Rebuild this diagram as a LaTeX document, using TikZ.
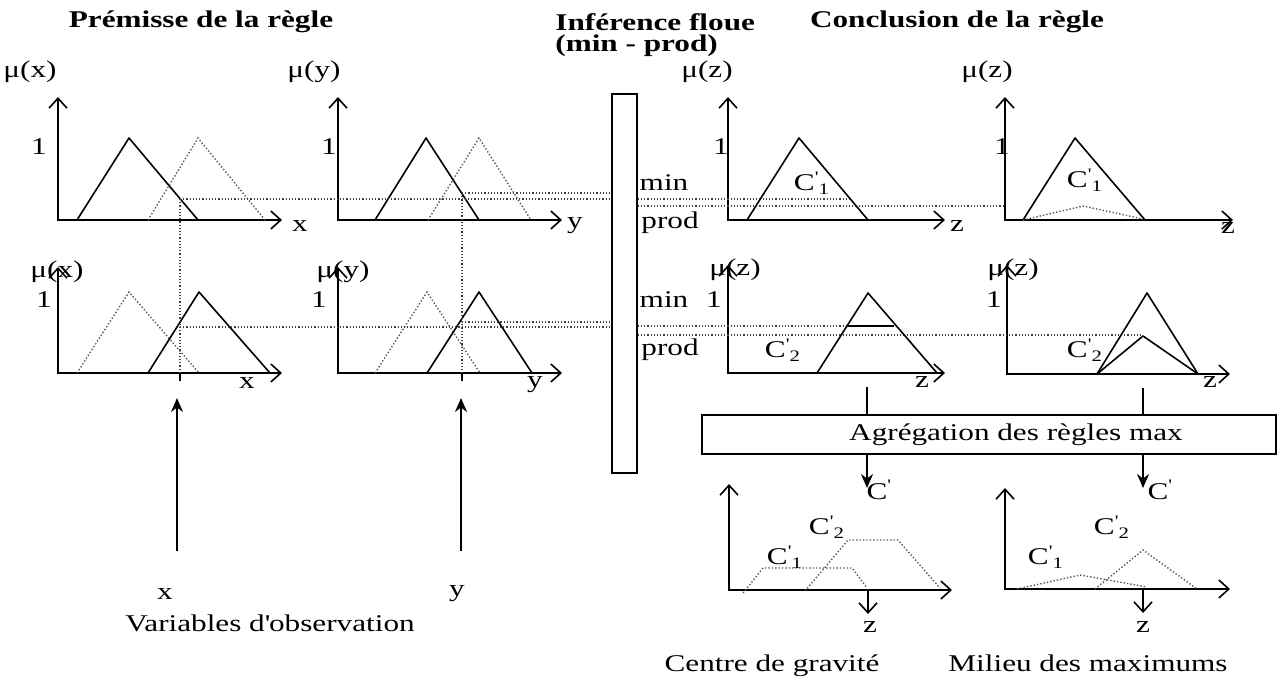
\documentclass[tikz,border=0pt]{standalone}
\usepackage{fontspec}
\setmainfont[FakeStretch=1.3]{Liberation Serif}
\usetikzlibrary{arrows.meta}
\newcommand\clab[1]{C\textsuperscript{\textquotesingle}\textsubscript{#1}}

\begin{document}
\begin{tikzpicture}[x=0.5pt,y=-0.5pt,
  every node/.style={font=\fontsize{12}{14}\selectfont,inner sep=1pt},
  titre/.style={font=\fontsize{12}{14}\selectfont\bfseries},
  axe/.style={line width=0.8pt,{Straight Barb[length=5pt,width=9pt]}-{Straight Barb[length=5pt,width=9pt]}},
  fleche/.style={line width=0.8pt,-{Straight Barb[length=5pt,width=9pt]}},
  obs/.style={line width=0.8pt,-{Stealth[length=7pt,width=6pt]}},
  memb/.style={line width=0.8pt,line join=round},
  fantome/.style={line width=0.7pt,densely dotted,black!65},
  guide/.style={line width=0.6pt,densely dotted,black!75}]
\useasboundingbox (0,0) rectangle (1277,675);

\node[titre] (tprem) at (201,22) {Prémisse de la règle};
\node[titre,anchor=west] (tinf) at (553,22) {Inférence floue};
\node[titre,anchor=west] (tmp) at (553,46) {(min - prod)};
\node[titre] (tconc) at (957,22) {Conclusion de la règle};

\foreach \ox/\oy/\ty/\xe in {58/220/97/282, 338/220/97/562, 728/220/97/945, 1005/220/97/1233,
    58/373/267/282, 338/373/267/562, 728/373/265/945, 1007/374/265/1230,
    729/590/484/952, 1005/589/488/1230}
  \draw[axe] (\ox,\ty) -- (\ox,\oy) -- (\xe,\oy);

\node (mux1) at (30,72) {μ(x)};
\node (muy1) at (314,72) {μ(y)};
\node (muz1) at (707,72) {μ(z)};
\node (muz2) at (987,72) {μ(z)};
\node (mux2) at (57,272) {μ(x)};
\node (muy2) at (343,272) {μ(y)};
\node (muz3) at (735,270) {μ(z)};
\node (muz4) at (1013,270) {μ(z)};
\foreach \lx/\ly in {39/147, 329/147, 721/147, 1002/147, 44/300, 319/300, 714/300, 994/300}
  \node at (\lx,\ly) {1};
\node (ax1) at (300,226) {x};
\node (ay1) at (575,226) {y};
\node (az1) at (957,226) {z};
\node (az2) at (1228,228) {z};
\node (ax2) at (247,383) {x};
\node (ay2) at (535,385) {y};
\node (az3) at (922,382) {z};
\node (az4) at (1210,382) {z};

% premisses
\draw[memb] (77,220) -- (129,138) -- (198,220);
\draw[fantome] (148,220) -- (198,138) -- (265,220);
\draw[memb] (375,220) -- (426,138) -- (479,220);
\draw[fantome] (428,220) -- (479,138) -- (531,220);
\draw[fantome] (77,373) -- (129,292) -- (199,373);
\draw[memb] (148,373) -- (199,292) -- (270,373);
\draw[fantome] (375,373) -- (427,292) -- (480,373);
\draw[memb] (427,373) -- (479,292) -- (532,373);

\node[draw,line width=0.8pt,minimum width=12.5pt,minimum height=189.5pt,inner sep=0] (infer) at (624.5,283.5) {};
\node (min1) at (664,183) {min};
\node (prod1) at (670,223) {prod};
\node (min2) at (664,300) {min};
\node (prod2) at (670,350) {prod};

\coordinate (gx1) at (180,199);
\coordinate (gy1) at (462,193);
\coordinate (gx2) at (180,327);
\coordinate (gy2) at (462,322);
\draw[guide] (gx1) -- (gx1 -| infer.west);
\draw[guide] (gy1) -- (gy1 -| infer.west);
\draw[guide] (gx2) -- (gx2 -| infer.west);
\draw[guide] (gy2) -- (gy2 -| infer.west);
\draw[guide] (gx1) -- (180,373);
\draw[guide] (gy1) -- (462,373);
\draw[memb] (180,373) -- (180,381);
\draw[memb] (462,373) -- (462,381);

% conclusions
\draw[guide] (infer.east |- 0,199) -- (850,199);
\draw[guide] (infer.east |- 0,206) -- (1005,206);
\draw[guide] (infer.east |- 0,326) -- (847,326);
\draw[guide] (infer.east |- 0,335) -- (1143,335);
\draw[memb] (747,220) -- (799,138) -- (868,220);
\draw[memb] (1023,220) -- (1075,138) -- (1145,220);
\draw[fantome] (1023,220) -- (1083,206) -- (1143,219);
\draw[memb] (817,373) -- (868,293) -- (937,373);
\draw[memb] (847,326) -- (894,326);
\draw[memb] (1097,374) -- (1147,293) -- (1198,374);
\draw[memb] (1097,374) -- (1143,336) -- (1198,374);
\node (c1a) at (812,183) {\clab{1}};
\node (c1b) at (1085,180) {\clab{1}};
\node (c2a) at (783,350) {\clab{2}};
\node (c2b) at (1085,350) {\clab{2}};

\node[draw,line width=0.8pt,minimum width=287pt,minimum height=19.5pt,inner sep=0] (agg) at (989,434.5) {};
\node (aggt) at (1016,435) {Agrégation des règles max};
\draw[memb] (867,387) -- (867,387 |- agg.north);
\draw[memb] (1143,388) -- (1143,388 |- agg.north);
\draw[obs] (agg.south -| 867,0) -- (867,488);
\draw[obs] (agg.south -| 1143,0) -- (1143,488);
\node (ca) at (879,490) {C\textsuperscript{\textquotesingle}};
\node (cb) at (1160,490) {C\textsuperscript{\textquotesingle}};

% defuzzification
\draw[fantome] (743,593) -- (763,568) -- (852,568) -- (867,588);
\draw[fantome] (805,591) -- (848,540) -- (898,540) -- (940,588);
\draw[fantome] (1017,589) -- (1080,575) -- (1147,587);
\draw[fantome] (1095,589) -- (1143,550) -- (1197,589);
\node (c2c) at (827,527) {\clab{2}};
\node (c1c) at (785,557) {\clab{1}};
\node (c2d) at (1112,527) {\clab{2}};
\node (c1d) at (1046,557) {\clab{1}};
\draw[fleche] (868,590) -- (868,614);
\draw[fleche] (1143,589) -- (1143,613);
\node (zg) at (870,627) {z};
\node (zm) at (1143,627) {z};
\node[anchor=base] (cg) at (772,671) {Centre de gravité};
\node[anchor=base] (mm) at (1088,671) {Milieu des maximums};

% observations
\draw[obs] (177,551) -- (177,398);
\draw[obs] (461,551) -- (461,398);
\node (obsx) at (165,594) {x};
\node (obsy) at (457,594) {y};
\node (obs) at (270,623) {Variables d\textquotesingle observation};
\end{tikzpicture}
\end{document}
